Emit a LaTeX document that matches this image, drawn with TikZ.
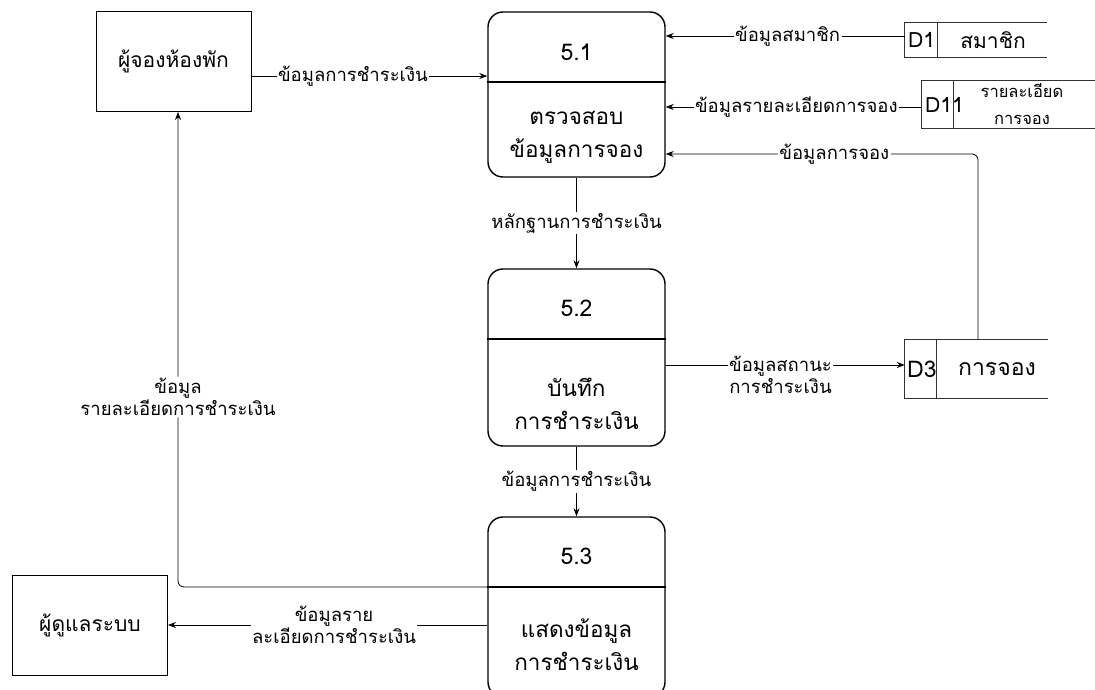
\documentclass[tikz,border=0pt]{standalone}
\usepackage{fontspec}
\setmainfont[Script=Thai]{Loma}
\usepackage{tikz}
\usetikzlibrary{arrows.meta}
\tikzset{
  procbox/.style={draw=black,line width=1.4pt,rounded corners=15pt,
    minimum width=177pt,inner sep=0pt},
  proctitle/.style={font=\fontsize{23}{25}\selectfont,inner sep=0pt},
  proctext/.style={font=\fontsize{22.5}{33}\selectfont,align=center,inner sep=0pt},
  entbox/.style={draw=black,line width=0.9pt,minimum width=155pt,minimum height=100pt,
    font=\fontsize{21}{24}\selectfont},
  storebox/.style={inner sep=0pt,minimum height=34pt,font=\fontsize{21}{24}\selectfont},
  storeline/.style={draw=black!80,line width=0.9pt},
  flow/.style={draw=black,line width=0.8pt,-{Stealth[length=8pt,width=6pt]}},
  lbl/.style={fill=white,font=\fontsize{18.5}{22}\selectfont,inner sep=1.5pt,align=center},
}

\begin{document}
\begin{tikzpicture}[x=1pt,y=-1pt]
  \useasboundingbox (0,0) rectangle (1095,690);
  % external entities
  \node[entbox] (booker) at (173.5,61.5) {ผู้จองห้องพัก};
  \node[entbox] (admin) at (90,625) {ผู้ดูแลระบบ};
  % processes
  \node[procbox,minimum height=165pt] (p51) at (576.5,94.5) {};
  \node[proctitle] (t51) at (576.5,52) {5.1};
  \node[proctext] (x51) at (576.5,137) {ตรวจสอบ\\ข้อมูลการจอง};
  \coordinate (s51) at (576.5,82);
  \draw[line width=1.4pt] (p51.west |- s51) -- (p51.east |- s51);
  \node[procbox,minimum height=177pt] (p52) at (576.5,357.5) {};
  \node[proctitle] (t52) at (576.5,308) {5.2};
  \node[proctext] (x52) at (576.5,404) {บันทึก\\การชำระเงิน};
  \coordinate (s52) at (576.5,339);
  \draw[line width=1.4pt] (p52.west |- s52) -- (p52.east |- s52);
  \node[procbox,minimum height=180pt] (p53) at (576.5,607) {};
  \node[proctitle] (t53) at (576.5,556) {5.3};
  \node[proctext] (x53) at (576.5,645) {แสดงข้อมูล\\การชำระเงิน};
  \coordinate (s53) at (576.5,587);
  \draw[line width=1.4pt] (p53.west |- s53) -- (p53.east |- s53);
  % data stores
  \node[storebox,minimum width=142pt] (d1) at (976,40) {};
  \node[storebox,anchor=west] (d1id) at (908,40) {D1};
  \node[storebox] (d1n) at (993,40) {สมาชิก};
  \draw[storeline] (d1.north east) -- (d1.north west) -- (d1.south west) -- (d1.south east);
  \draw[storeline] (937,23) -- (937,57);
  \node[storebox,minimum width=173pt,minimum height=47pt] (d11) at (1008.5,104.5) {};
  \node[storebox,anchor=west] (d11id) at (925,104.5) {D11};
  \node[storebox,font=\fontsize{16.5}{27}\selectfont,align=center] (d11n) at (1022,104) {รายละเอียด\\การจอง};
  \draw[storeline] (d11.north east) -- (d11.north west) -- (d11.south west) -- (d11.south east);
  \draw[storeline] (953,81) -- (953,128);
  \node[storebox,minimum width=143pt,minimum height=58pt,font=\fontsize{23}{26}\selectfont] (d3) at (976.5,369) {};
  \node[storebox,anchor=west,font=\fontsize{23}{26}\selectfont] (d3id) at (907,369) {D3};
  \node[storebox,font=\fontsize{23}{26}\selectfont] (d3n) at (997,369) {การจอง};
  \draw[storeline] (d3.north east) -- (d3.north west) -- (d3.south west) -- (d3.south east);
  \draw[storeline] (936,340) -- (936,398);
  % data flows
  \coordinate (bk) at (978,154);
  \draw[flow] ([yshift=-14.5pt]booker.east) -- ([yshift=-14.5pt]booker.east -| p51.west)
    node[lbl,pos=0.43] {ข้อมูลการชำระเงิน};
  \draw[flow] ([yshift=4pt]d1.west) -- ([yshift=4pt]d1.west -| p51.east)
    node[lbl,pos=0.49] {ข้อมูลสมาชิก};
  \draw[flow] ([yshift=-2.5pt]d11.west) -- ([yshift=-2.5pt]d11.west -| p51.east)
    node[lbl,pos=0.49] {ข้อมูลรายละเอียดการจอง};
  \draw[flow,rounded corners=6pt] ([xshift=1.5pt]d3.north) |- (p51.east |- bk)
    node[lbl,pos=0.73] {ข้อมูลการจอง};
  \draw[flow] (p51.south) -- (p52.north) node[lbl,midway] {หลักฐานการชำระเงิน};
  \draw[flow] ([yshift=-7.5pt]p52.east) -- ([yshift=-7.5pt]p52.east -| d3.west)
    node[lbl,pos=0.48,yshift=-10pt] {ข้อมูลสถานะ\\การชำระเงิน};
  \draw[flow] (p52.south) -- (p53.north) node[lbl,midway] {ข้อมูลการชำระเงิน};
  \draw[flow,rounded corners=6pt] (p53.west |- s53) -| ([xshift=4.5pt]booker.south)
    node[lbl,pos=0.7] {ข้อมูล\\รายละเอียดการชำระเงิน};
  \draw[flow] (p53.west |- admin.east) -- (admin.east)
    node[lbl,pos=0.48] {ข้อมูลราย\\ละเอียดการชำระเงิน};
\end{tikzpicture}
\end{document}
